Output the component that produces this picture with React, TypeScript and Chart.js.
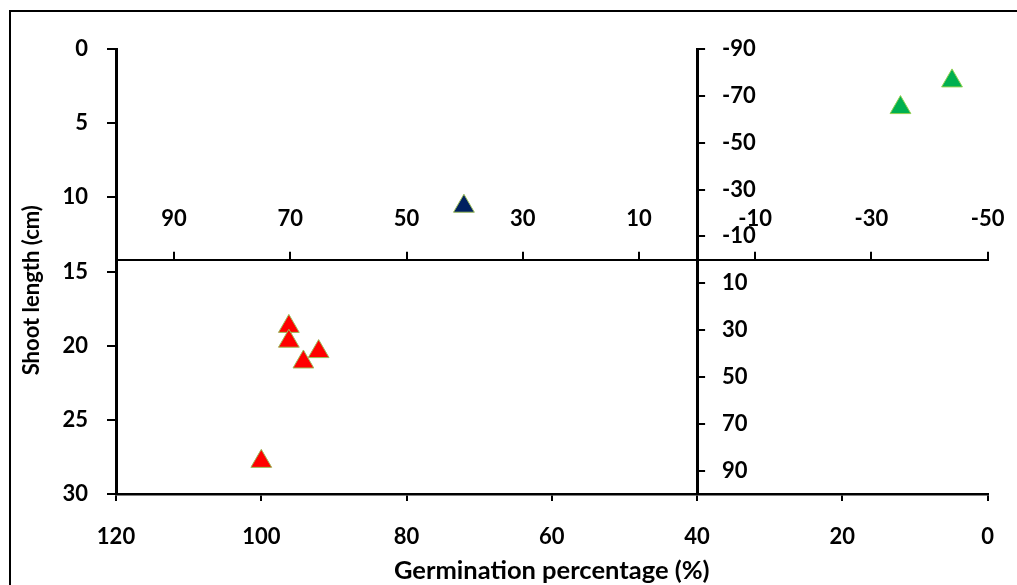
import React, { useEffect, useRef } from 'react';
import { Chart, registerables } from 'chart.js';
Chart.register(...registerables);

// ---- data (germination percentage vs shoot length) ----
const redX = [96.2, 96.2, 92.1, 94.2, 100];
const redY = [18.7, 19.7, 20.4, 21.1, 27.8];
const blueX = [72.1];
const blueY = [10.6];
const greenX = [12.0, 4.9];
const greenY = [3.95, 2.15];

// ---- tick labels ----
const xTicks = [120, 100, 80, 60, 40, 20, 0];
const yTicks = [0, 5, 10, 15, 20, 25, 30];
const x2Ticks = [90, 70, 50, 30, 10, -10, -30, -50];
const y2Ticks = [-90, -70, -50, -30, -10, 10, 30, 50, 70, 90];

const xTitle = 'Germination percentage (%)';
const yTitle = 'Shoot length (cm)';

const FAMILY = 'Lato';
const SIZE = 22;
const FONT: any = { family: FAMILY, size: SIZE, weight: 'bold' };
const XTITLE_FONT: any = { family: FAMILY, size: 25.5, weight: 'bold', lineHeight: 1 };

const toPoints = (xs: number[], ys: number[]) => xs.map((x, i) => ({ x, y: ys[i] }));
const setTicks = (vals: number[]) => (s: any) => {
  s.ticks = vals.map((v) => ({ value: v }));
};

// Secondary axes: tick marks point up (x2) / right (y2), y2 labels sit right of its line
const secondaryAxisPlugin = {
  id: 'secondaryAxis',
  afterDraw(chart: any) {
    const y2 = chart.scales.y2;
    const x2 = chart.scales.x2;
    const ctx = chart.ctx;
    const x0 = x2.getPixelForValue(0);
    const y0 = y2.getPixelForValue(0);
    ctx.save();
    ctx.strokeStyle = '#000';
    ctx.lineWidth = 2;
    ctx.lineCap = 'butt';
    ctx.beginPath();
    x2.ticks.forEach((t: any) => {
      const px = Math.round(x2.getPixelForValue(t.value));
      ctx.moveTo(px, y0);
      ctx.lineTo(px, y0 - 8);
    });
    y2.ticks.forEach((t: any) => {
      const py = Math.round(y2.getPixelForValue(t.value));
      ctx.moveTo(x0, py);
      ctx.lineTo(x0 + 8, py);
    });
    ctx.stroke();
    ctx.font = `bold ${SIZE}px ${FAMILY}`;
    ctx.fillStyle = '#000';
    ctx.textAlign = 'left';
    ctx.textBaseline = 'middle';
    y2.ticks.forEach((t: any) => ctx.fillText(String(t.value), x0 + 25, y2.getPixelForValue(t.value)));
    ctx.restore();
  },
};

export default function App() {
  const ref = useRef<HTMLCanvasElement>(null);
  useEffect(() => {
    if (!ref.current) return;
    const tri = { pointStyle: 'triangle', pointRadius: 12, pointBorderWidth: 1, showLine: false };
    const chart = new Chart(ref.current, {
      type: 'scatter',
      data: {
        datasets: [
          { ...tri, label: 'red', data: toPoints(redX, redY), backgroundColor: '#FF0000', borderColor: '#9BBB59', xAxisID: 'x', yAxisID: 'y' },
          { ...tri, label: 'blue', data: toPoints(blueX, blueY), backgroundColor: '#002060', borderColor: '#9BBB59', xAxisID: 'x', yAxisID: 'y' },
          { ...tri, label: 'green', data: toPoints(greenX, greenY), backgroundColor: '#00B050', borderColor: '#92D050', xAxisID: 'x', yAxisID: 'y' },
        ] as any,
      },
      options: {
        animation: false,
        responsive: false,
        layout: { padding: { left: 16, right: 27, top: 49, bottom: 0 } },
        plugins: { legend: { display: false }, tooltip: { enabled: false } },
        scales: {
          x: {
            type: 'linear',
            position: 'bottom',
            reverse: true,
            min: 0,
            max: 120,
            afterBuildTicks: setTicks(xTicks),
            afterFit: (s: any) => { s.height = 91; },
            ticks: { font: FONT, color: '#000', padding: 23, maxRotation: 0, autoSkip: false },
            grid: { drawOnChartArea: false, tickLength: 7, color: '#000', lineWidth: 2 },
            border: { color: '#000', width: 2.5 },
            title: { display: true, text: xTitle, font: XTITLE_FONT, color: '#000', padding: { top: 0, bottom: 1.5 } },
          },
          y: {
            type: 'linear',
            position: 'left',
            reverse: true,
            min: 0,
            max: 30,
            afterBuildTicks: setTicks(yTicks),
            afterFit: (s: any) => { s.width = 100; },
            ticks: { font: FONT, color: '#000', padding: 19, autoSkip: false },
            grid: { drawOnChartArea: false, tickLength: 9, color: '#000', lineWidth: 2 },
            border: { color: '#000', width: 3 },
            title: { display: true, text: yTitle + '       ', font: FONT, color: '#000', padding: { top: 3, bottom: 0 } },
          },
          x2: {
            type: 'linear',
            position: { y2: 0 } as any,
            reverse: true,
            min: -50,
            max: 100,
            afterBuildTicks: setTicks(x2Ticks),
            ticks: { font: FONT, color: '#000', padding: -54, maxRotation: 0, autoSkip: false },
            grid: { drawOnChartArea: false, drawTicks: false, color: '#000', lineWidth: 2 },
            border: { color: '#000', width: 2 },
          },
          y2: {
            type: 'linear',
            position: { x2: 0 } as any,
            reverse: true,
            min: -90,
            max: 100,
            afterBuildTicks: setTicks(y2Ticks),
            ticks: { display: false, autoSkip: false },
            grid: { drawOnChartArea: false, drawTicks: false, color: '#000', lineWidth: 2 },
            border: { color: '#000', width: 3 },
          },
        } as any,
      },
      plugins: [secondaryAxisPlugin],
    } as any);
    return () => chart.destroy();
  }, []);

  return (
    <div style={{ position: 'absolute', left: 0, top: 0, width: 1017, height: 585, overflow: 'hidden', background: '#fff' }}>
      <div style={{ position: 'absolute', left: 9, top: 10, width: 1100, height: 700, border: '2px solid #000', boxSizing: 'border-box' }} />
      <canvas ref={ref} width={1017} height={585} style={{ position: 'absolute', left: 0, top: 0, width: 1017, height: 585 }} />
    </div>
  );
}
